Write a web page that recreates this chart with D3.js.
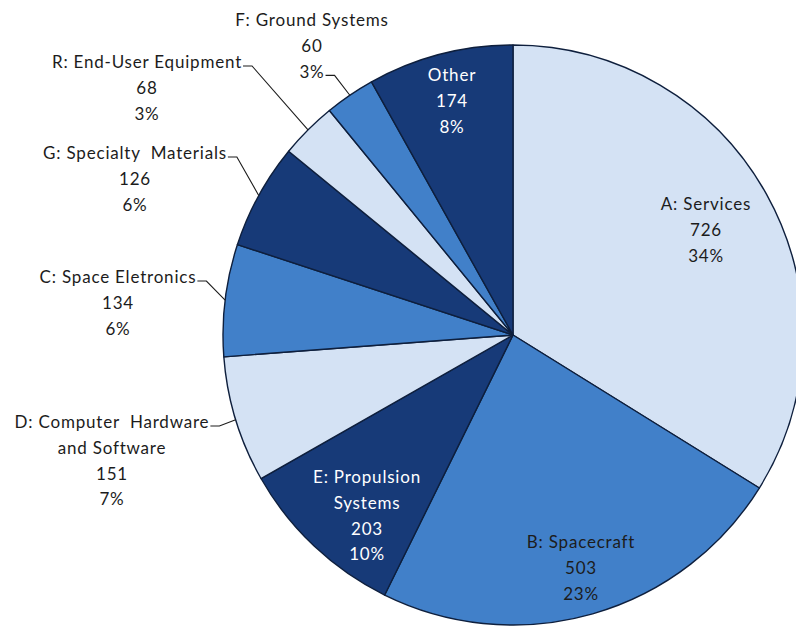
<!DOCTYPE html>
<html>
<head>
<meta charset="utf-8">
<script src="https://cdn.jsdelivr.net/npm/d3@7"></script>
<style>
  html, body { margin: 0; padding: 0; background: #fff; }
  svg { display: block; }
  text { font-family: Lato, "Open Sans", sans-serif; font-size: 17px; letter-spacing: 0.8px; white-space: pre; }
</style>
</head>
<body>
<svg id="chart" width="796" height="626"></svg>
<script>
// ---- data ----
const categories = ["A: Services", "B: Spacecraft", "E: Propulsion Systems", "D: Computer  Hardware and Software",
  "C: Space Eletronics", "G: Specialty  Materials", "R: End-User Equipment", "F: Ground Systems", "Other"];
const values = [726, 503, 203, 151, 134, 126, 68, 60, 174];
const percentLabels = ["34%", "23%", "10%", "7%", "6%", "6%", "3%", "3%", "8%"];
const nameLines = [["A: Services"], ["B: Spacecraft"], ["E: Propulsion", "Systems"], ["D: Computer  Hardware", "and Software"],
  ["C: Space Eletronics"], ["G: Specialty  Materials"], ["R: End-User Equipment"], ["F: Ground Systems"], ["Other"]];

// ---- layout / style ----
const cx = 513, cy = 335, R = 290;
const fills = ["#d4e2f4", "#4180c9", "#173a78"];
const fillIndex = [0, 1, 2, 0, 1, 2, 0, 1, 2];
const textColor = ["#1c1c1c", "#1c1c1c", "#ffffff", "#1c1c1c", "#1c1c1c", "#1c1c1c", "#1c1c1c", "#1c1c1c", "#ffffff"];
const inside = [true, true, true, false, false, false, false, false, true];
// label block centre x and first-line centre y
const labelPos = [[706, 204], [581, 542], [367, 477], [112, 422], [118, 277], [135, 153], [147, 62], [312, 20], [452, 75]];
const lineGap = 25.7;
// which line the leader starts from (outside labels)
const leaderLine = [0, 0, 0, 0, 0, 0, 0, 2, 0];

const svg = d3.select("#chart");
const g = svg.append("g").attr("transform", `translate(${cx},${cy})`);

const pie = d3.pie().sort(null).value(d => d)(values);
const arc = d3.arc().innerRadius(0).outerRadius(R);
const edgeArc = d3.arc().innerRadius(R).outerRadius(R);

g.selectAll("path.slice").data(pie).join("path")
  .attr("class", "slice")
  .attr("d", arc)
  .attr("fill", (d, i) => fills[fillIndex[i]])
  .attr("stroke", "#0e1f3d")
  .attr("stroke-width", 1.4)
  .attr("stroke-linejoin", "round");

// labels
pie.forEach((d, i) => {
  const lines = nameLines[i].concat([String(values[i]), percentLabels[i]]);
  const [lx, ly] = labelPos[i];
  const t = svg.append("text")
    .attr("text-anchor", "middle")
    .attr("fill", textColor[i]);
  const spans = lines.map((s, k) => t.append("tspan")
    .attr("x", lx)
    .attr("y", ly + k * lineGap)
    .attr("dy", "0.36em")
    .text(s));
  if (!inside[i]) {
    const sp = spans[leaderLine[i]];
    const w = sp.node().getComputedTextLength();
    const sx = lx + w / 2 + 1;
    const sy = ly + leaderLine[i] * lineGap + 4;
    const [ex, ey] = edgeArc.centroid(d);
    svg.append("polyline")
      .attr("points", [[sx, sy], [sx + 9, sy], [cx + ex, cy + ey]].map(p => p.join(",")).join(" "))
      .attr("fill", "none")
      .attr("stroke", "#1c1c1c")
      .attr("stroke-width", 1.1);
  }
});
</script>
</body>
</html>
